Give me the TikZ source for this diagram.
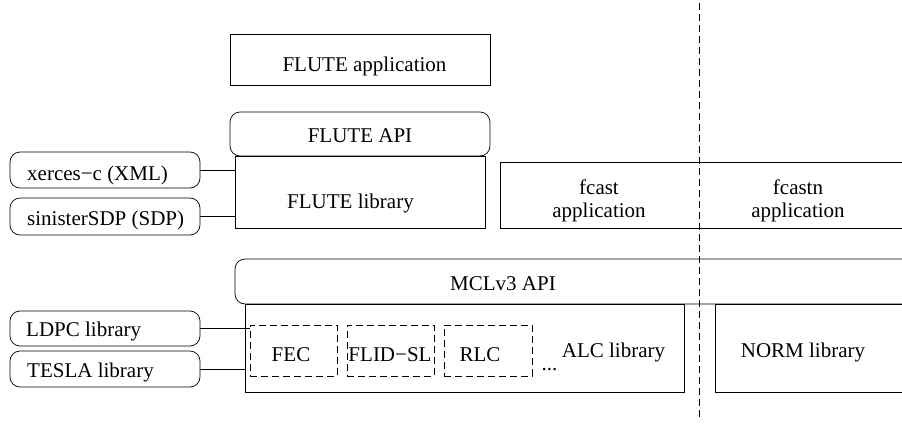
\documentclass[tikz,border=0pt]{standalone}
\usepackage{fontspec}
\setmainfont{Liberation Serif}
\begin{document}
\begin{tikzpicture}[x=1pt,y=-1pt]
\tikzset{
  frame/.style={draw=black, line width=0.7pt, inner sep=0pt},
  rbox/.style={frame, rounded corners=10pt},
  dbox/.style={frame, dash pattern=on 7pt off 4pt},
  wire/.style={draw=black, line width=0.7pt},
  sepline/.style={draw=black, line width=0.7pt, dash pattern=on 7pt off 4pt},
  txt/.style={font=\fontsize{21}{22}\selectfont, inner sep=0pt, anchor=base},
  ltxt/.style={txt, anchor=base west},
}
\useasboundingbox (0,0) rectangle (902,423);

% FLUTE stack
\node[frame, minimum width=260pt, minimum height=51pt] (app) at (360,59.5) {};
\node[txt] (appT) at (364.5,71) {FLUTE application};
\node[rbox, minimum width=260pt, minimum height=44pt] (api) at (360,134) {};
\node[txt] (apiT) at (360,142.5) {FLUTE API};
\node[frame, minimum width=250pt, minimum height=72pt] (lib) at (360,192) {};
\node[txt] (libT) at (350.5,208) {FLUTE library};

% external libs for FLUTE
\node[rbox, minimum width=190pt, minimum height=36pt] (xer) at (105,170) {};
\node[ltxt] (xerT) at (27,180) {xerces−c (XML)};
\node[rbox, minimum width=190pt, minimum height=37pt] (sin) at (105,216.5) {};
\node[ltxt] (sinT) at (27,225) {sinisterSDP (SDP)};
\draw[wire] (xer.east) -- (xer.east -| lib.west);
\draw[wire] (sin.east) -- (sin.east -| lib.west);

% fcast / fcastn applications
\draw[frame] (902,162) -| (500,228) -- (902,228);
\node[txt] (fcT) at (599,194.5) {fcast};
\node[txt] (fcT2) at (599,217) {application};
\node[txt] (fnT) at (798,194.5) {fcastn};
\node[txt] (fnT2) at (798,217) {application};

% MCLv3
\draw[frame, rounded corners=10pt] (902,259) -- (235,259) -- (235,304) -- (902,304);
\node[txt] (mclT) at (503,290) {MCLv3 API};
\node[frame, minimum width=439pt, minimum height=88pt] (alc) at (464.5,348) {};
\node[txt] (alcT) at (613.5,357) {ALC library};
\draw[frame] (902,304) -| (715,392) -- (902,392);
\node[txt] (normT) at (803,357) {NORM library};

\node[dbox, minimum width=87pt, minimum height=51pt] (fec) at (293.5,350.5) {};
\node[txt] (fecT) at (291,361) {FEC};
\node[dbox, minimum width=87pt, minimum height=51pt] (flid) at (390.5,350.5) {};
\node[txt] (flidT) at (390,361) {FLID−SL};
\node[dbox, minimum width=88pt, minimum height=51pt] (rlc) at (488,350.5) {};
\node[txt] (rlcT) at (480,361) {RLC};
\node[txt] (dots) at (549.5,370) {...};

% external libs for ALC
\node[rbox, minimum width=190pt, minimum height=35pt] (ldpc) at (105,328.5) {};
\node[ltxt] (ldpcT) at (26,336) {LDPC library};
\node[rbox, minimum width=190pt, minimum height=36pt] (tesla) at (105,369) {};
\node[ltxt] (teslaT) at (27,377) {TESLA library};
\draw[wire] (ldpc.east) -- (ldpc.east -| fec.west);
\draw[wire] (tesla.east) -- (tesla.east -| alc.west);

% separator
\coordinate (dtop) at (699,3);
\coordinate (dbot) at (699,421);
\draw[sepline] (dtop) -- (dbot);
\end{tikzpicture}
\end{document}
